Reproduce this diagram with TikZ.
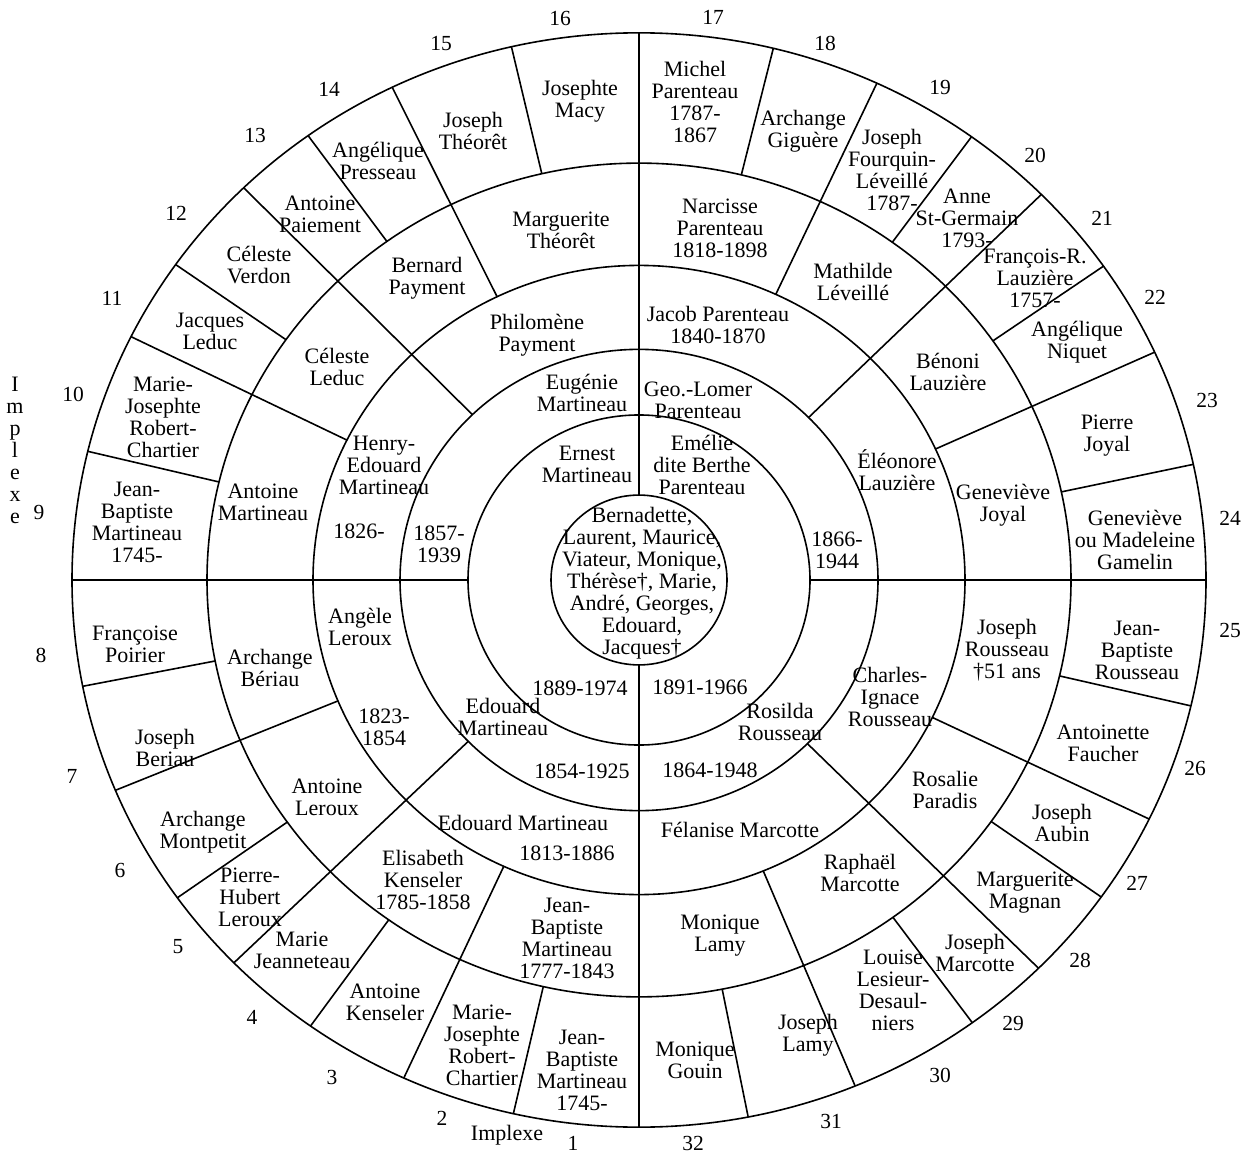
\documentclass[tikz,border=0pt]{standalone}
\usepackage{fontspec}
\setmainfont{Liberation Serif}
\begin{document}
\begin{tikzpicture}[x=1pt,y=-1pt,
  lbl/.style={align=center,font=\fontsize{22}{22}\selectfont,inner sep=0pt},
  num/.style={font=\fontsize{21.5}{22}\selectfont,inner sep=0pt},
  ring/.style={line width=1.6pt}]
\useasboundingbox (0,0) rectangle (1247,1155);
\fill[white] (0,0) rectangle (1247,1155);
% ---- geometry ----
\begin{scope}[shift={(639,580)},yscale=-0.965]
  \foreach \r in {88,171,239,326,432,567}
    \draw[ring] (0,0) circle[radius=\r];
  \foreach \a/\r in {90/88,270/88,
      0/171,180/171,
      44.8/239,134.2/239,224.4/239,314.8/239,
      24.6/326,65.2/326,115.8/326,153.6/326,202.6/326,245.5/326,292.4/326,334.1/326,
      12.2/432,35/432,54.1/432,76.3/432,103/432,125.7/432,144.8/432,166.4/432,
      191.2/432,215.5/432,234.6/432,257.2/432,281.1/432,306/432,324.6/432,346.7/432}
    \draw[ring] (\a:\r) -- (\a:567);
\end{scope}
% ---- centre ----
\node[lbl] (c0) at (642,583) {Bernadette,\\Laurent, Maurice,\\Viateur, Monique,\\Thérèse†, Marie,\\André, Georges,\\Edouard,\\Jacques†};
% ---- ring 1 ----
\node[lbl] (p1) at (587,464) {Ernest\\Martineau};
\node[lbl] (p2) at (702,465) {Emélie\\dite Berthe\\Parenteau};
\node[lbl] (p1d) at (580,688) {1889-1974};
\node[lbl] (p2d) at (700,687) {1891-1966};
% ---- ring 2 ----
\node[lbl] (g1) at (582,393) {Eugénie\\Martineau};
\node[lbl] (g1d) at (439,544) {1857-\\1939};
\node[lbl] (g2) at (698,400) {Geo.-Lomer\\Parenteau};
\node[lbl] (g2d) at (837,550) {1866-\\1944};
\node[lbl] (g3) at (503,717) {Edouard\\Martineau};
\node[lbl] (g3d) at (582,771) {1854-1925};
\node[lbl] (g4) at (780,722) {Rosilda\\Rousseau};
\node[lbl] (g4d) at (710,770) {1864-1948};
% ---- ring 3 ----
\node[lbl] (h1) at (384,465) {Henry-\\Edouard\\Martineau};
\node[lbl] (h1d) at (359,531) {1826-};
\node[lbl] (h2) at (537,335) {Philomène\\Payment};
\node[lbl] (h3) at (718,325) {Jacob Parenteau\\1840-1870};
\node[lbl] (h4) at (897,470) {Éléonore\\Lauzière};
\node[lbl] (h5) at (360,627) {Angèle\\Leroux};
\node[lbl] (h5d) at (384,727) {1823-\\1854};
\node[lbl] (h6) at (523,823) {Edouard Martineau};
\node[lbl] (h6d) at (567,853) {1813-1886};
\node[lbl] (h7) at (740,830) {Félanise Marcotte};
\node[lbl] (h8) at (890,697) {Charles-\\Ignace\\Rousseau};
% ---- ring 4 ----
\node[lbl] (q1) at (263,502) {Antoine\\Martineau};
\node[lbl] (q2) at (337,367) {Céleste\\Leduc};
\node[lbl] (q3) at (427,278) {Bernard\\Payment};
\node[lbl] (q4) at (561,230) {Marguerite\\Théorêt};
\node[lbl] (q5) at (720,228) {Narcisse\\Parenteau\\1818-1898};
\node[lbl] (q6) at (853,282) {Mathilde\\Léveillé};
\node[lbl] (q7) at (948,372) {Bénoni\\Lauzière};
\node[lbl] (q8) at (1003,505) {Geneviève\\Joyal};
\node[lbl] (q9) at (1007,650) {Joseph\\Rousseau\\†51 ans};
\node[lbl] (q10) at (945,790) {Rosalie\\Paradis};
\node[lbl] (q11) at (860,873) {Raphaël\\Marcotte};
\node[lbl] (q12) at (720,936) {Monique\\Lamy};
\node[lbl] (q13) at (567,938) {Jean-\\Baptiste\\Martineau\\1777-1843};
\node[lbl] (q14) at (423,880) {Elisabeth\\Kenseler\\1785-1858};
\node[lbl] (q15) at (327,797) {Antoine\\Leroux};
\node[lbl] (q16) at (270,668) {Archange\\Bériau};
% ---- ring 5 ----
\node[lbl] (a1) at (582,1070) {Jean-\\Baptiste\\Martineau\\1745-};
\node[lbl] (a2) at (482,1045) {Marie-\\Josephte\\Robert-\\Chartier};
\node[lbl] (a3) at (385,1002) {Antoine\\Kenseler};
\node[lbl] (a4) at (302,950) {Marie\\Jeanneteau};
\node[lbl] (a5) at (250,897) {Pierre-\\Hubert\\Leroux};
\node[lbl] (a6) at (203,832) {Archange\\Montpetit};
\node[lbl] (a7) at (165,748) {Joseph\\Beriau};
\node[lbl] (a8) at (135,644) {Françoise\\Poirier};
\node[lbl] (a9) at (137,522) {Jean-\\Baptiste\\Martineau\\1745-};
\node[lbl] (a10) at (163,417) {Marie-\\Josephte\\Robert-\\Chartier};
\node[lbl] (a11) at (210,331) {Jacques\\Leduc};
\node[lbl] (a12) at (259,265) {Céleste\\Verdon};
\node[lbl] (a13) at (320,214) {Antoine\\Paiement};
\node[lbl] (a14) at (378,161) {Angélique\\Presseau};
\node[lbl] (a15) at (473,131) {Joseph\\Théorêt};
\node[lbl] (a16) at (580,101) {Josephte\\Macy};
\node[lbl] (a17) at (695,102) {Michel\\Parenteau\\1787-\\1867};
\node[lbl] (a18) at (803,131) {Archange\\Giguère};
\node[lbl] (a19) at (892,170) {Joseph\\Fourquin-\\Léveillé\\1787-};
\node[lbl] (a20) at (967,218) {Anne\\St-Germain\\1793-};
\node[lbl] (a21) at (1035,278) {François-R.\\Lauzière\\1757-};
\node[lbl] (a22) at (1077,342) {Angélique\\Niquet};
\node[lbl] (a23) at (1107,436) {Pierre\\Joyal};
\node[lbl] (a24) at (1135,540) {Geneviève\\ou Madeleine\\Gamelin};
\node[lbl] (a25) at (1137,650) {Jean-\\Baptiste\\Rousseau};
\node[lbl] (a26) at (1103,743) {Antoinette\\Faucher};
\node[lbl] (a27) at (1062,823) {Joseph\\Aubin};
\node[lbl] (a28) at (1025,893) {Marguerite\\Magnan};
\node[lbl] (a29) at (975,953) {Joseph\\Marcotte};
\node[lbl] (a30) at (893,990) {Louise\\Lesieur-\\Desaul-\\niers};
\node[lbl] (a31) at (808,1035) {Joseph\\Lamy};
\node[lbl] (a32) at (695,1060) {Monique\\Gouin};
% ---- numbers ----
\node[num] (n1) at (573,1143) {1};
\node[num] (n2) at (442,1118) {2};
\node[num] (n3) at (332,1077) {3};
\node[num] (n4) at (252,1017) {4};
\node[num] (n5) at (178,947) {5};
\node[num] (n6) at (120,870) {6};
\node[num] (n7) at (72,776) {7};
\node[num] (n8) at (41,655) {8};
\node[num] (n9) at (39,512) {9};
\node[num] (n10) at (73,394) {10};
\node[num] (n11) at (112,298) {11};
\node[num] (n12) at (176,213) {12};
\node[num] (n13) at (255,135) {13};
\node[num] (n14) at (329,89) {14};
\node[num] (n15) at (441,44) {15};
\node[num] (n16) at (560,18) {16};
\node[num] (n17) at (713,17) {17};
\node[num] (n18) at (825,43) {18};
\node[num] (n19) at (940,87) {19};
\node[num] (n20) at (1035,155) {20};
\node[num] (n21) at (1102,218) {21};
\node[num] (n22) at (1155,297) {22};
\node[num] (n23) at (1207,400) {23};
\node[num] (n24) at (1230,518) {24};
\node[num] (n25) at (1230,630) {25};
\node[num] (n26) at (1195,768) {26};
\node[num] (n27) at (1137,883) {27};
\node[num] (n28) at (1080,960) {28};
\node[num] (n29) at (1013,1023) {29};
\node[num] (n30) at (940,1075) {30};
\node[num] (n31) at (831,1121) {31};
\node[num] (n32) at (693,1143) {32};
% ---- implexe ----
\node[lbl] (imp1) at (15,450) {I\\m\\p\\l\\e\\x\\e};
\node[lbl] (imp2) at (507,1135) {Implexe};
\end{tikzpicture}
\end{document}
